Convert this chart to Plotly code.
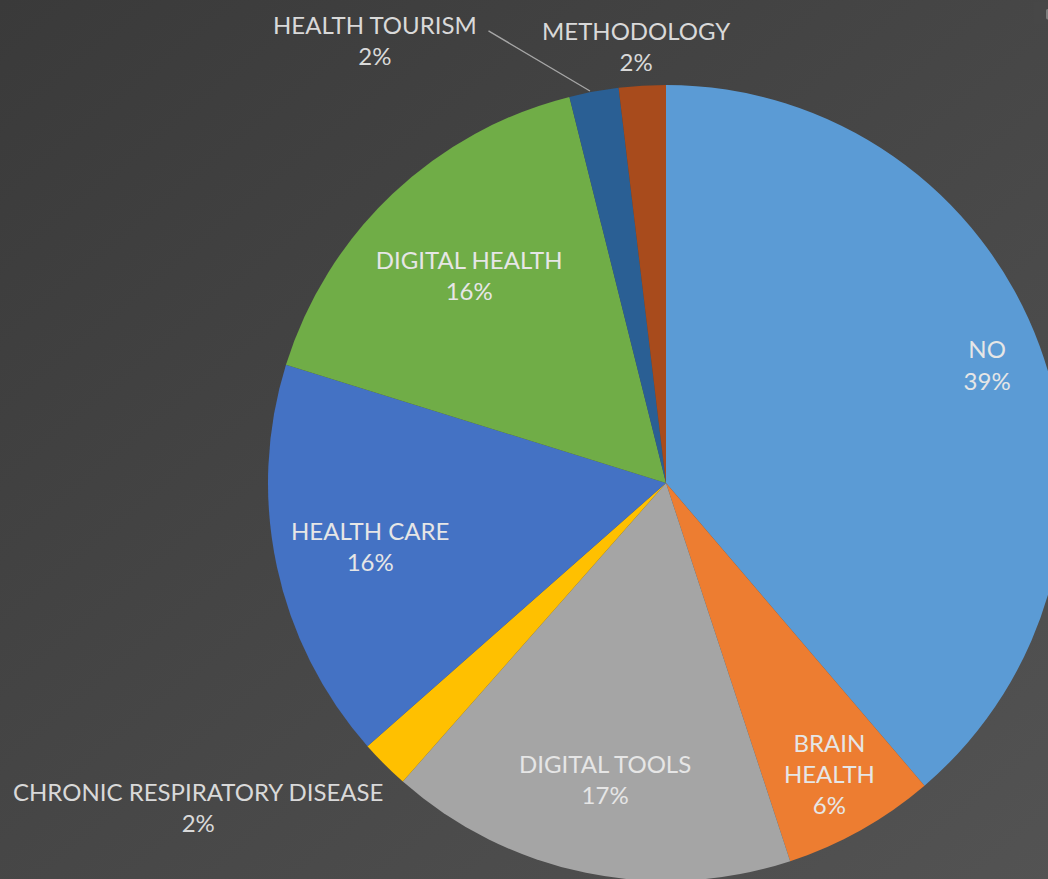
import base64
import plotly.graph_objects as go

# ---- data (shares in %; labels show them rounded) ----
categories = ["NO", "BRAIN HEALTH", "DIGITAL TOOLS", "CHRONIC RESPIRATORY DISEASE",
              "HEALTH CARE", "DIGITAL HEALTH", "HEALTH TOURISM", "METHODOLOGY"]
display_labels = ["NO", "BRAIN<br>HEALTH", "DIGITAL TOOLS", "CHRONIC RESPIRATORY DISEASE",
                  "HEALTH CARE", "DIGITAL HEALTH", "HEALTH TOURISM", "METHODOLOGY"]
shares = [38.75, 6.2, 16.55, 2.0, 16.3, 16.3, 2.0, 1.9]
outside_labels = ["CHRONIC RESPIRATORY DISEASE", "HEALTH TOURISM", "METHODOLOGY"]

# ---- styles ----
colors = ["#5b9bd5", "#ed7d31", "#a5a5a5", "#ffc000",
          "#4472c4", "#70ad47", "#2a5f94", "#a84b1c"]
FONT = "Lato"
FS = 24
W, H = 1100, 920           # figure larger than the window; the page crops it
CX, CY, R = 666, 483, 398  # pie centre / radius in page pixels
dom = dict(x=[(CX - R) / W, (CX + R) / W], y=[1 - (CY + R) / H, 1 - (CY - R) / H])

# transparent rings that carry the in-slice labels; the ring width sets how far
# out Plotly places each label
label_ring_hole = {"NO": 0.72, "BRAIN HEALTH": 0.52, "DIGITAL TOOLS": 0.52,
                   "HEALTH CARE": 0.52, "DIGITAL HEALTH": 0.44}

# positions (page px) of the labels placed beside the pie
outside_pos = {"CHRONIC RESPIRATORY DISEASE": (198, 807),
               "HEALTH TOURISM": (375, 40),
               "METHODOLOGY": (636, 46)}
leader = dict(head=(590, 91), tail=(487, 30))

bg_svg = (
    '<svg xmlns="http://www.w3.org/2000/svg" width="100" height="100" preserveAspectRatio="none">'
    '<defs><linearGradient id="g" x1="0" y1="0" x2="1" y2="1">'
    '<stop offset="0" stop-color="#3a3a3a"/><stop offset="1" stop-color="#545454"/>'
    '</linearGradient></defs><rect width="100" height="100" fill="url(#g)"/></svg>'
)
bg_uri = "data:image/svg+xml;base64," + base64.b64encode(bg_svg.encode()).decode()

total = sum(shares)
pct = {c: s / total for c, s in zip(categories, shares)}

fig = go.Figure()
# coloured slices
fig.add_trace(go.Pie(
    labels=categories, values=shares, sort=False, direction="clockwise", rotation=0,
    marker=dict(colors=colors, line=dict(width=0)),
    textinfo="none", domain=dom, automargin=False, showlegend=False,
    hoverinfo="label+percent",
))
# label rings
for hole in sorted(set(label_ring_hole.values())):
    templates = ["%{text}<br>%{percent:.0%}" if label_ring_hole.get(c) == hole else ""
                 for c in categories]
    fig.add_trace(go.Pie(
        labels=categories, values=shares, sort=False, direction="clockwise", rotation=0,
        hole=hole,
        marker=dict(colors=["rgba(0,0,0,0)"] * len(categories), line=dict(width=0)),
        text=display_labels, texttemplate=templates, textposition="inside",
        insidetextorientation="horizontal",
        textfont=dict(family=FONT, size=FS, color="#e6e6e6"),
        domain=dom, automargin=False, showlegend=False, hoverinfo="skip",
    ))

annotations = []
for c in outside_labels:
    px, py = outside_pos[c]
    annotations.append(dict(
        text=f"{c}<br>{round(pct[c] * 100)}%", x=px / W, y=1 - py / H,
        xref="paper", yref="paper", xanchor="center", yanchor="middle",
        showarrow=False, align="center",
        font=dict(family=FONT, size=FS, color="#d9d9d9"),
    ))
hx, hy = leader["head"]
tx, ty = leader["tail"]
annotations.append(dict(
    text="", x=hx / W, y=1 - hy / H, xref="paper", yref="paper",
    showarrow=True, arrowhead=0, arrowwidth=1.3, arrowcolor="#a6a6a6",
    ax=tx - hx, ay=ty - hy, standoff=0, startstandoff=0,
))

fig.update_layout(
    width=W, height=H,
    margin=dict(l=0, r=0, t=0, b=0),
    paper_bgcolor="#474747",
    plot_bgcolor="#474747",
    uniformtext=dict(minsize=FS, mode="show"),
    annotations=annotations,
    images=[dict(source=bg_uri, xref="paper", yref="paper", x=0, y=1,
                 sizex=1, sizey=1, sizing="stretch", layer="below",
                 xanchor="left", yanchor="top")],
)

post = (
    "document.body.style.margin='0';"
    "document.documentElement.style.overflow='hidden';"
    "var p=document.getElementById('{plot_id}').parentElement;"
    "p.style.width='1048px';p.style.height='879px';p.style.overflow='hidden';"
)

fig.write_html("out.html", post_script=post)
